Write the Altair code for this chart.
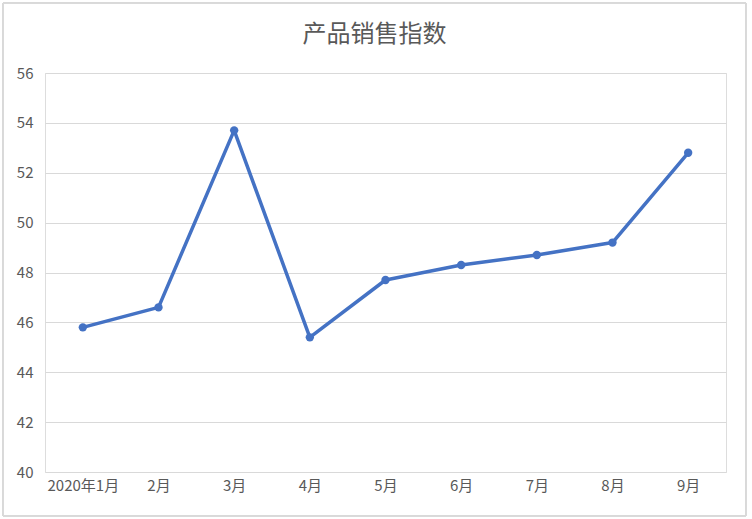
import altair as alt
import pandas as pd

months = ["2020年1月", "2月", "3月", "4月", "5月", "6月", "7月", "8月", "9月"]
index_values = [45.8, 46.6, 53.7, 45.4, 47.7, 48.3, 48.7, 49.2, 52.8]

df = pd.DataFrame({"month": months, "value": index_values})

FONT = "Noto Sans CJK SC"
TEXT_GRAY = "#595959"
LINE_BLUE = "#4472C4"

W, H = 681, 399

x_enc = alt.X(
    "month:N",
    sort=months,
    scale=alt.Scale(paddingInner=0, paddingOuter=0.5),
    axis=alt.Axis(
        title=None,
        labelAngle=0,
        labelFont=FONT,
        labelFontSize=15,
        labelColor=TEXT_GRAY,
        labelPadding=6,
        ticks=False,
        domain=False,
        grid=False,
    ),
)
y_enc = alt.Y(
    "value:Q",
    scale=alt.Scale(domain=[40, 56], nice=False, zero=False),
    axis=alt.Axis(
        title=None,
        values=list(range(40, 57, 2)),
        labelFont=FONT,
        labelFontSize=15,
        labelColor=TEXT_GRAY,
        labelPadding=12,
        ticks=False,
        domain=False,
        gridColor="#D9D9D9",
        gridWidth=1,
    ),
)

base = alt.Chart(df).encode(x=x_enc, y=y_enc)

line = base.mark_line(color=LINE_BLUE, strokeWidth=3.5, strokeJoin="round")
points = base.mark_circle(color=LINE_BLUE, size=70, opacity=1)

# outer frame around the whole chart
frame = alt.Chart(df).mark_rect(
    fill=None, stroke="#D9D9D9", strokeWidth=1
).encode(
    x=alt.value(-42), x2=alt.value(701),
    y=alt.value(-70), y2=alt.value(443),
)

chart = (
    alt.layer(frame, line, points)
    .properties(
        width=W,
        height=H,
        autosize=alt.AutoSizeParams(type="none"),
        padding={"left": 45, "top": 73, "right": 26, "bottom": 47},
        title=alt.TitleParams(
            "产品销售指数",
            font=FONT,
            fontSize=24,
            fontWeight="normal",
            color=TEXT_GRAY,
            anchor="middle",
            frame="group",
            dx=-11,
            offset=-44,
        ),
    )
    .configure_view(stroke=None)
    .configure(background="white")
)

chart.save("out.html", embed_options={"renderer": "svg", "actions": False})
